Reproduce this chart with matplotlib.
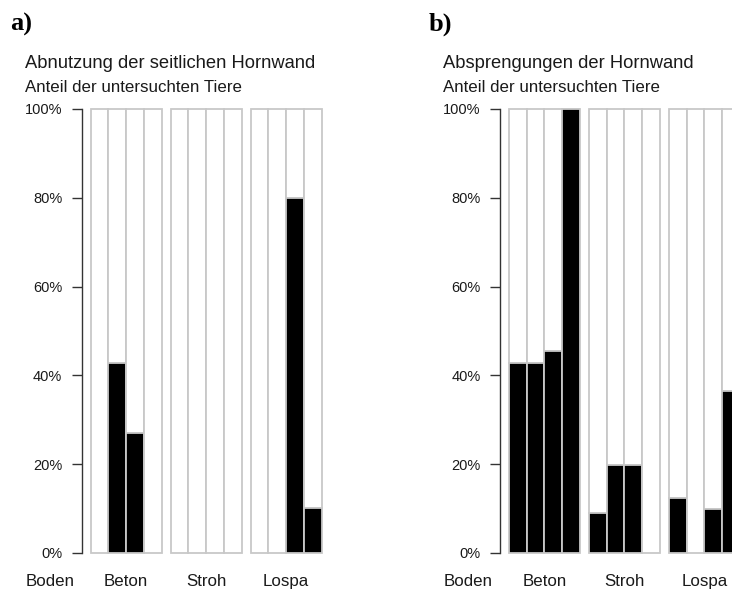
import matplotlib
matplotlib.use("Agg")
import matplotlib.pyplot as plt

# ---- data ----
groups = ["Beton", "Stroh", "Lospa"]
axis_label = "Boden"
yticks = [0, 20, 40, 60, 80, 100]
ytick_labels = ["0%", "20%", "40%", "60%", "80%", "100%"]

a_title = "Abnutzung der seitlichen Hornwand"
b_title = "Absprengungen der Hornwand"
subtitle = "Anteil der untersuchten Tiere"

a_values = [[0, 42.7, 27.0, 0],
            [0, 0, 0, 0],
            [0, 0, 80.0, 10.2]]
b_values = [[42.7, 42.7, 45.4, 100],
            [8.9, 19.8, 19.8, 0],
            [12.3, 0, 9.8, 36.5]]

W, H = 732, 589
fig = plt.figure(figsize=(W / 100, H / 100), dpi=100)
fig.patch.set_facecolor("white")

SANS = ["Liberation Sans", "DejaVu Sans"]
SERIF = ["Liberation Serif", "DejaVu Serif"]
TXT = "#1a1a1a"
EDGE = "#c8c8c8"


def fx(x):
    return x / W


def fy(y):
    return 1 - y / H


def panel(left_px, values, letter, letter_x, title):
    unit = 17.78
    top, bottom = 109, 553
    ax = fig.add_axes([fx(left_px), fy(bottom), 14 * unit / W, (bottom - top) / H])
    ax.set_xlim(0, 14)
    ax.set_ylim(0, 100)
    ax.patch.set_alpha(0)
    for s in ["top", "right", "bottom"]:
        ax.spines[s].set_visible(False)
    ax.spines["left"].set_color("#333333")
    ax.spines["left"].set_linewidth(1.0)
    ax.set_xticks([])
    ax.set_yticks(yticks)
    ax.set_yticklabels(ytick_labels, family=SANS, fontsize=10.5, color=TXT)
    ax.tick_params(axis="y", length=7, width=1.0, color="#333333", pad=7)
    for g, vals in enumerate(values):
        for i, v in enumerate(vals):
            x0 = 0.5 + g * 4.5 + i
            ax.bar(x0, 100 - v, bottom=v, width=1, align="edge",
                   color="white", edgecolor=EDGE, linewidth=1.3, clip_on=False)
            if v > 0:
                ax.bar(x0, v, width=1, align="edge", color="black",
                       edgecolor=EDGE, linewidth=1.3, clip_on=False)
        cx = left_px + (0.5 + g * 4.5 + 2) * unit
        fig.text(fx(cx), fy(586), groups[g], family=SANS, fontsize=12.2,
                 color=TXT, ha="center", va="baseline")
    fig.text(fx(left_px - 32), fy(586), axis_label, family=SANS, fontsize=12.2,
             color=TXT, ha="center", va="baseline")
    fig.text(fx(left_px - 57), fy(68.5), title, family=SANS, fontsize=13.2,
             color=TXT, ha="left", va="baseline")
    fig.text(fx(left_px - 57), fy(92.5), subtitle, family=SANS, fontsize=12.2,
             color=TXT, ha="left", va="baseline")
    fig.text(fx(letter_x), fy(31), letter, family=SERIF, fontsize=19,
             fontweight="bold", color="black", ha="left", va="baseline")
    return ax


panel(81.7, a_values, "a)", 10, a_title)
panel(500, b_values, "b)", 429, b_title)

fig.savefig("out.png", dpi=100, facecolor="white")
